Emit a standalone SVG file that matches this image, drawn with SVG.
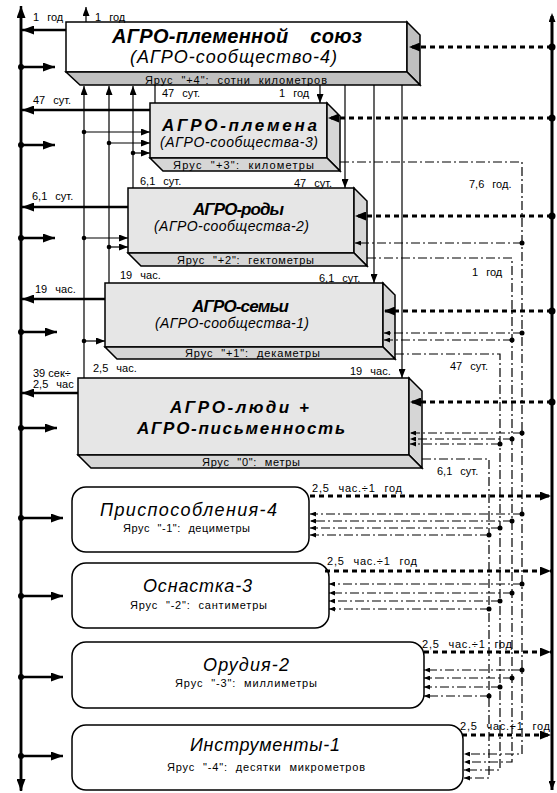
<svg xmlns="http://www.w3.org/2000/svg" width="557" height="793" viewBox="0 0 557 793">
<style>
text{font-family:"Liberation Sans",Arial,sans-serif;fill:#000}
.lb{font-size:11px;word-spacing:5px}
.tier{font-size:11px;word-spacing:4px}
.t1{font-size:20px;font-weight:bold;font-style:italic}
.t2{font-size:17px;font-weight:bold;font-style:italic}
.st{font-style:italic}
.front{stroke:#000;stroke-width:1.5}
.thk{stroke:#000;stroke-width:2.5;fill:none}
.thn{stroke:#000;stroke-width:1.2;fill:none}
.dt{stroke:#000;stroke-width:3;stroke-dasharray:5 4;fill:none}
.dtv{stroke:#000;stroke-width:3;stroke-dasharray:4 4;fill:none}
.dd{stroke:#000;stroke-width:1.2;stroke-dasharray:9 3 2 3;fill:none}
.rb{fill:#fff;stroke:#000;stroke-width:1.5}
</style>
<defs>
<marker id="aT" viewBox="0 0 12 9" refX="12" refY="4.5" markerWidth="12" markerHeight="9" markerUnits="userSpaceOnUse" orient="auto"><path d="M0,0 L12,4.5 L0,9 z"/></marker>
<marker id="aS" viewBox="0 0 9 7" refX="9" refY="3.5" markerWidth="9" markerHeight="7" markerUnits="userSpaceOnUse" orient="auto"><path d="M0,0 L9,3.5 L0,7 z"/></marker>
<marker id="aD" viewBox="0 0 11 9" refX="11" refY="4.5" markerWidth="11" markerHeight="9" markerUnits="userSpaceOnUse" orient="auto"><path d="M0,0 L11,4.5 L0,9 z"/></marker>
<marker id="aX" viewBox="0 0 6 5" refX="6" refY="2.5" markerWidth="6" markerHeight="5" markerUnits="userSpaceOnUse" orient="auto"><path d="M0,0 L6,2.5 L0,5 z"/></marker>
</defs>

<!-- axes -->
<g id="axes">
<line class="thk" x1="21" y1="790" x2="21" y2="6" marker-end="url(#aT)"/>
<line class="thk" x1="21" y1="13" x2="21" y2="791" marker-end="url(#aT)"/>
<line class="dtv" x1="552" y1="788" x2="552" y2="13" marker-end="url(#aS)"/>
<line class="dtv" x1="552" y1="20" x2="552" y2="790" marker-end="url(#aS)"/>
</g>

<!-- 3D boxes -->
<g id="box1">
<rect class="front" x="66" y="22" width="341" height="50" fill="#fff"/>
<polygon class="front" points="407,22 420,35 420,85 407,72" fill="#c0c0c0"/>
<polygon class="front" points="66,72 407,72 420,85 80,85" fill="#c0c0c0"/>
<text class="t1" x="112" y="43" textLength="250" word-spacing="16">АГРО-племенной союз</text>
<text class="st" x="130" y="63" font-size="18" textLength="207">(АГРО-сообщество-4)</text>
<text class="tier" x="145" y="84" textLength="182">Ярус "+4": сотни километров</text>
</g>
<g id="box2">
<rect class="front" x="150" y="103" width="177" height="55" fill="#e6e6e6"/>
<polygon class="front" points="327,103 340,116 340,171 327,158" fill="#d6d6d6"/>
<polygon class="front" points="150,158 327,158 340,171 163,171" fill="#d6d6d6"/>
<text class="t2" x="162" y="131" font-size="19" textLength="155">АГРО-племена</text>
<text class="st" x="160" y="147" font-size="14" textLength="158">(АГРО-сообщества-3)</text>
<text class="tier" x="173" y="169" textLength="141">Ярус "+3": километры</text>
</g>
<g id="box3">
<rect class="front" x="128" y="188" width="226" height="65" fill="#e6e6e6"/>
<polygon class="front" points="354,188 367,201 367,266 354,253" fill="#d6d6d6"/>
<polygon class="front" points="128,253 354,253 367,266 141,266" fill="#d6d6d6"/>
<text class="t2" x="193" y="215" textLength="91">АГРО-роды</text>
<text class="st" x="154" y="231" font-size="14" textLength="155">(АГРО-сообщества-2)</text>
<text class="tier" x="177" y="264" textLength="137">Ярус "+2": гектометры</text>
</g>
<g id="box4">
<rect class="front" x="105" y="283" width="278" height="64" fill="#e6e6e6"/>
<polygon class="front" points="383,283 395,295 395,359 383,347" fill="#d6d6d6"/>
<polygon class="front" points="105,347 383,347 395,359 117,359" fill="#d6d6d6"/>
<text class="t2" x="192" y="312" textLength="97">АГРО-семьи</text>
<text class="st" x="155" y="328" font-size="14" textLength="154">(АГРО-сообщества-1)</text>
<text class="tier" x="185" y="357" textLength="135">Ярус "+1": декаметры</text>
</g>
<g id="box5">
<rect class="front" x="78" y="378" width="331" height="77" fill="#e6e6e6"/>
<polygon class="front" points="409,378 422,391 422,468 409,455" fill="#d6d6d6"/>
<polygon class="front" points="78,455 409,455 422,468 91,468" fill="#d6d6d6"/>
<text class="t2" x="170" y="413" font-size="19" textLength="139">АГРО-люди +</text>
<text class="t2" x="137" y="434" font-size="19" textLength="208">АГРО-письменность</text>
<text class="tier" x="202" y="466" textLength="98">Ярус "0": метры</text>
</g>

<!-- rounded boxes -->
<g id="box6">
<rect class="rb" x="72" y="487" width="237" height="65" rx="14"/>
<text class="st" x="100" y="516" font-size="18" textLength="177">Приспособления-4</text>
<text class="tier" x="123" y="532" textLength="127">Ярус "-1": дециметры</text>
</g>
<g id="box7">
<rect class="rb" x="72" y="563" width="257" height="65" rx="14"/>
<text class="st" x="143" y="592" font-size="18" textLength="109">Оснастка-3</text>
<text class="tier" x="130" y="609" textLength="137">Ярус "-2": сантиметры</text>
</g>
<g id="box8">
<rect class="rb" x="72" y="642" width="352" height="66" rx="14"/>
<text class="st" x="203" y="671" font-size="18" textLength="86">Орудия-2</text>
<text class="tier" x="175" y="687" textLength="142">Ярус "-3": миллиметры</text>
</g>
<g id="box9">
<rect class="rb" x="72" y="725" width="391" height="65" rx="14"/>
<text class="st" x="190" y="751" font-size="18" textLength="150">Инструменты-1</text>
<text class="tier" x="167" y="771" textLength="198">Ярус "-4": десятки микрометров</text>
</g>

<!-- connectors -->
<g id="connectors">
<line class="thn" x1="86" y1="22" x2="86" y2="7" marker-end="url(#aS)"/>
<line class="thk" x1="66" y1="30" x2="22" y2="30" marker-end="url(#aT)"/>
<line class="thk" x1="150" y1="110" x2="22" y2="110" marker-end="url(#aT)"/>
<line class="thk" x1="128" y1="207" x2="22" y2="207" marker-end="url(#aT)"/>
<line class="thk" x1="105" y1="299" x2="22" y2="299" marker-end="url(#aT)"/>
<line class="thk" x1="78" y1="393" x2="22" y2="393" marker-end="url(#aT)"/>
<g class="thk" marker-end="url(#aT)">
<line x1="21" y1="67" x2="55" y2="67"/>
<line x1="21" y1="145" x2="55" y2="145"/>
<line x1="21" y1="238" x2="55" y2="238"/>
<line x1="21" y1="332" x2="57" y2="332"/>
<line x1="21" y1="428" x2="57" y2="428"/>
<line x1="21" y1="518" x2="63" y2="518"/>
<line x1="21" y1="596" x2="63" y2="596"/>
<line x1="21" y1="677" x2="63" y2="677"/>
<line x1="21" y1="756" x2="63" y2="756"/>
</g>
<g fill="#000">
<circle cx="21" cy="67" r="3"/><circle cx="21" cy="145" r="3"/><circle cx="21" cy="238" r="3"/>
<circle cx="21" cy="332" r="3"/><circle cx="21" cy="428" r="3"/><circle cx="21" cy="518" r="3"/>
<circle cx="21" cy="596" r="3"/><circle cx="21" cy="677" r="3"/><circle cx="21" cy="756" r="3"/>
</g>
<line class="thn" x1="84" y1="378" x2="84" y2="86" marker-end="url(#aS)"/>
<line class="thn" x1="109" y1="283" x2="109" y2="86" marker-end="url(#aS)"/>
<line class="thn" x1="133" y1="188" x2="133" y2="86" marker-end="url(#aS)"/>
<line class="thn" x1="155" y1="85" x2="155" y2="103"/>
<g class="thn" marker-end="url(#aS)">
<line x1="84" y1="132" x2="150" y2="132"/>
<line x1="109" y1="143" x2="150" y2="143"/>
<line x1="133" y1="153" x2="150" y2="153"/>
<line x1="84" y1="238" x2="128" y2="238"/>
<line x1="109" y1="247" x2="128" y2="247"/>
<line x1="84" y1="341" x2="105" y2="341"/>
</g>
<g fill="#000">
<circle cx="84" cy="132" r="2.3"/><circle cx="109" cy="143" r="2.3"/><circle cx="133" cy="153" r="2.3"/>
<circle cx="84" cy="238" r="2.3"/><circle cx="109" cy="247" r="2.3"/><circle cx="84" cy="341" r="2.3"/>
</g>
<g class="thn" marker-end="url(#aS)">
<line x1="320" y1="85" x2="320" y2="103"/>
<line x1="345" y1="85" x2="345" y2="188"/>
<line x1="374" y1="85" x2="374" y2="283"/>
<line x1="402" y1="85" x2="402" y2="378"/>
</g>
<g class="dt" marker-end="url(#aD)">
<line x1="552" y1="47" x2="409" y2="47"/>
<line x1="552" y1="118" x2="328" y2="118"/>
<line x1="552" y1="216" x2="355" y2="216"/>
<line x1="552" y1="311" x2="384" y2="311"/>
<line x1="552" y1="402" x2="410" y2="402"/>
</g>
<g fill="#000">
<circle cx="552" cy="47" r="3.5"/><circle cx="552" cy="118" r="3.5"/><circle cx="552" cy="216" r="3.5"/>
<circle cx="552" cy="311" r="3.5"/><circle cx="552" cy="402" r="3.5"/>
</g>
<g class="dt" marker-end="url(#aD)">
<line x1="310" y1="496" x2="551" y2="496"/>
<line x1="325" y1="571" x2="551" y2="571"/>
<line x1="424" y1="652" x2="551" y2="652"/>
<line x1="462" y1="735" x2="551" y2="735"/>
</g>
<polyline class="dd" points="340,162 522,162 522,754 464,754" marker-end="url(#aX)"/>
<polyline class="dd" points="367,258 512,258 512,762 464,762" marker-end="url(#aX)"/>
<polyline class="dd" points="395,354 500,354 500,770 464,770" marker-end="url(#aX)"/>
<polyline class="dd" points="422,459 489,459 489,778 464,778" marker-end="url(#aX)"/>
<g class="dd" marker-end="url(#aX)">
<line x1="522" y1="243" x2="355" y2="243"/>
<line x1="522" y1="333" x2="384" y2="333"/>
<line x1="512" y1="340" x2="384" y2="340"/>
<line x1="522" y1="433" x2="410" y2="433"/>
<line x1="512" y1="439" x2="410" y2="439"/>
<line x1="500" y1="444" x2="410" y2="444"/>
<line x1="522" y1="514" x2="310" y2="514"/>
<line x1="512" y1="521" x2="310" y2="521"/>
<line x1="500" y1="528" x2="310" y2="528"/>
<line x1="489" y1="535" x2="310" y2="535"/>
<line x1="522" y1="584" x2="329" y2="584"/>
<line x1="512" y1="593" x2="329" y2="593"/>
<line x1="500" y1="601" x2="329" y2="601"/>
<line x1="489" y1="609" x2="329" y2="609"/>
<line x1="522" y1="670" x2="424" y2="670"/>
<line x1="512" y1="678" x2="424" y2="678"/>
<line x1="500" y1="687" x2="424" y2="687"/>
<line x1="489" y1="696" x2="424" y2="696"/>
</g>
<g fill="#000">
<circle cx="522" cy="243" r="2.5"/><circle cx="522" cy="333" r="2.5"/><circle cx="512" cy="340" r="2.5"/>
<circle cx="522" cy="433" r="2.5"/><circle cx="512" cy="439" r="2.5"/><circle cx="500" cy="444" r="2.5"/>
<circle cx="522" cy="514" r="2.5"/><circle cx="512" cy="521" r="2.5"/><circle cx="500" cy="528" r="2.5"/><circle cx="489" cy="535" r="2.5"/>
<circle cx="522" cy="584" r="2.5"/><circle cx="512" cy="593" r="2.5"/><circle cx="500" cy="601" r="2.5"/><circle cx="489" cy="609" r="2.5"/>
<circle cx="522" cy="670" r="2.5"/><circle cx="512" cy="678" r="2.5"/><circle cx="500" cy="687" r="2.5"/><circle cx="489" cy="696" r="2.5"/>
</g>
<g class="lb">
<text x="33" y="21">1 год</text>
<text x="95" y="21">1 год</text>
<text x="33" y="104">47 сут.</text>
<text x="162" y="97">47 сут.</text>
<text x="279" y="97">1 год</text>
<text x="140" y="185">6,1 сут.</text>
<text x="32" y="200">6,1 сут.</text>
<text x="294" y="187">47 сут.</text>
<text x="469" y="188">7,6 год.</text>
<text x="472" y="276">1 год</text>
<text x="319" y="282">6,1 сут.</text>
<text x="120" y="279">19 час.</text>
<text x="35" y="293">19 час.</text>
<text x="93" y="372">2,5 час.</text>
<text x="33" y="377" word-spacing="0">39 сек÷</text>
<text x="33" y="388">2,5 час</text>
<text x="350" y="375">19 час.</text>
<text x="450" y="370">47 сут.</text>
<text x="437" y="475">6,1 сут.</text>
<text x="312" y="492" textLength="90">2,5 час.÷1 год</text>
<text x="327" y="565" textLength="90">2,5 час.÷1 год</text>
<text x="422" y="648" textLength="90">2,5 час.÷1 год</text>
<text x="460" y="730" textLength="90">2,5 час.÷1 год</text>
</g>
</g>
</svg>
